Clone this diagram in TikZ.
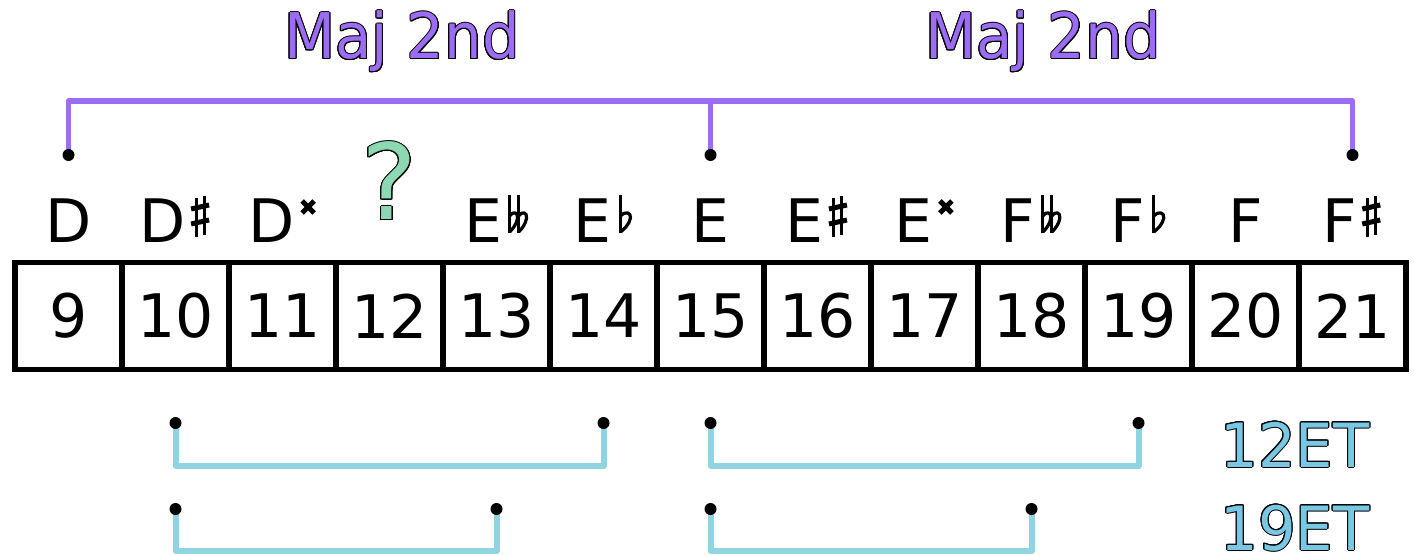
\documentclass[tikz,border=0pt]{standalone}
\usepackage{fontspec}
\usepackage{graphicx}
\setmainfont{DejaVu Sans}
\usepackage{contour}
\contourlength{1.0pt}
\definecolor{mpurple}{RGB}{157,108,245}
\definecolor{mblue}{RGB}{144,212,226}
\definecolor{tblue}{RGB}{120,200,228}
\definecolor{mgreen}{RGB}{140,216,178}
\newcommand\shp{\kern3pt\tikz[baseline=0pt,x=1pt,y=1pt]{\draw[line width=3pt] (5,6) -- (5,45) (13,8) -- (13,47); \draw[line width=5pt] (0,19) -- (18,23) (0,34) -- (18,38);}}
\newcommand\flatglyph{\draw[line width=3pt] (0,10) -- (0,48); \draw[line width=3.2pt, line join=round] (0,27) .. controls (4,32) and (11,31) .. (10,25) .. controls (9,19) and (4,14) .. (0,11);}
\newcommand\flt{\kern7pt\tikz[baseline=0pt,x=1pt,y=1pt]{\flatglyph}}
\newcommand\dflt{\kern6pt\tikz[baseline=0pt,x=1pt,y=1pt]{\begin{scope}[xscale=0.8]\flatglyph\end{scope}\begin{scope}[xshift=9pt,xscale=0.8]\flatglyph\end{scope}}}
\newcommand\dshp{\kern5pt\tikz[baseline=0pt,x=1pt,y=1pt]{\draw[line width=5pt] (1,30) -- (13,42) (1,42) -- (13,30);}}
\tikzset{
  cell/.style={draw, line width=5.5pt, minimum width=107pt, minimum height=107pt, inner sep=0pt, font=\fontsize{60}{60}\selectfont},
  nm/.style={anchor=base, inner sep=0pt, font=\fontsize{60}{60}\selectfont},
  pline/.style={draw=mpurple, line width=5.5pt, line join=round},
  bline/.style={draw=mblue, line width=6pt, line join=round},
  dot/.style={circle, fill=black, inner sep=0pt, minimum size=12pt},
  ttl/.style={anchor=base, inner sep=0pt, font=\fontsize{63}{63}\selectfont},
  etl/.style={anchor=base, inner sep=0pt, font=\fontsize{61}{61}\selectfont},
}
\begin{document}
\begin{tikzpicture}[x=1pt,y=-1pt]
\useasboundingbox (0,0) rectangle (1414,556);
% cells
\foreach \n [count=\i from 0] in {9,...,21} {
  \node[cell] (c\n) at (68.5+107*\i,316) {\n};
}
% note names
\node[nm] (nD) at (68.5,243) {D};
\node[nm] (nDs) at (175.5,243) {D\shp};
\node[nm] (nDx) at (282.5,243) {D\dshp};
\node[anchor=base, inner sep=0pt, font=\fontsize{105}{105}\selectfont] (nQ) at (389.5,220) {\contour{black}{\textcolor{mgreen}{?}}};
\node[nm] (nEbb) at (496.5,243) {E\dflt};
\node[nm] (nEb) at (603.5,243) {E\flt};
\node[nm] (nE) at (710.5,243) {E};
\node[nm] (nEs) at (817.5,243) {E\shp};
\node[nm] (nEx) at (924.5,243) {E\dshp};
\node[nm] (nFbb) at (1031.5,243) {F\dflt};
\node[nm] (nFb) at (1138.5,243) {F\flt};
\node[nm] (nF) at (1245.5,243) {F};
\node[nm] (nFs) at (1352.5,243) {F\shp};
% titles
\node[ttl] (t1) at (402,59) {\scalebox{0.94}[1]{\contour{black}{\textcolor{mpurple}{Maj 2nd}}}};
\node[ttl] (t2) at (1043,59) {\scalebox{0.94}[1]{\contour{black}{\textcolor{mpurple}{Maj 2nd}}}};
% purple bracket
\coordinate (pD) at (68.5,155);
\coordinate (pE) at (710.5,155);
\coordinate (pFs) at (1352.5,155);
\draw[pline] (pD) -- ++(0,-54) -| (pFs);
\draw[pline] (pE) -- ++(0,-54);
\node[dot] at (pD) {};
\node[dot] at (pE) {};
\node[dot] at (pFs) {};
% 12ET
\coordinate (a1) at (175.5,423);
\coordinate (a2) at (603.5,423);
\coordinate (a3) at (710.5,423);
\coordinate (a4) at (1138.5,423);
\draw[bline] (a1) -- ++(0,43) -| (a2);
\draw[bline] (a3) -- ++(0,43) -| (a4);
\foreach \p in {a1,a2,a3,a4} \node[dot] at (\p) {};
% 19ET
\coordinate (b1) at (175.5,509);
\coordinate (b2) at (496.5,509);
\coordinate (b3) at (710.5,509);
\coordinate (b4) at (1031.5,509);
\draw[bline] (b1) -- ++(0,42) -| (b2);
\draw[bline] (b3) -- ++(0,42) -| (b4);
\foreach \p in {b1,b2,b3,b4} \node[dot] at (\p) {};
\node[etl] (e12) at (1295,467) {\scalebox{0.97}[1]{\contour{black}{\textcolor{tblue}{12ET}}}};
\node[etl] (e19) at (1295,550) {\scalebox{0.97}[1]{\contour{black}{\textcolor{tblue}{19ET}}}};
\end{tikzpicture}
\end{document}
